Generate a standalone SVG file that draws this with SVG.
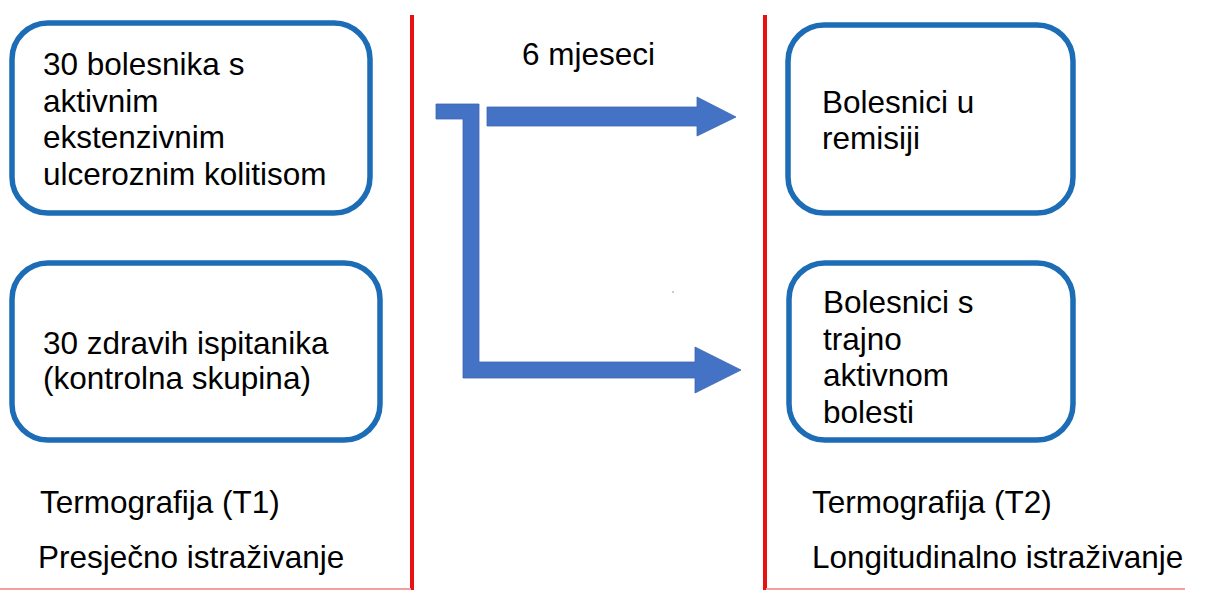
<svg xmlns="http://www.w3.org/2000/svg" width="1206" height="590" viewBox="0 0 1206 590">
<style>
.box{fill:#fff;stroke:#1c6db5;stroke-width:5.5}
.t{font-family:"Liberation Sans",Arial,sans-serif;font-size:31.5px;fill:#000}
.div{stroke:#e81010;stroke-width:4}
.base{stroke:#f0a0a0;stroke-width:2}
.arr{fill:#4472c4;stroke:#3d66b0;stroke-width:0.8}
</style>
<rect width="1206" height="590" fill="#fff"/>
<g id="dividers">
<line class="div" x1="412" y1="15" x2="412" y2="590"/>
<line class="div" x1="765" y1="15" x2="765" y2="590"/>
<line class="base" x1="0" y1="589" x2="411" y2="589"/>
<line class="base" x1="766" y1="589" x2="1185" y2="589"/>
</g>
<g id="node-patients">
<rect class="box" x="12" y="23" width="358" height="190" rx="36"/>
<text class="t" x="43" y="75">30 bolesnika s</text>
<text class="t" x="43" y="111.7">aktivnim</text>
<text class="t" x="43" y="148.3">ekstenzivnim</text>
<text class="t" x="43" y="185">ulceroznim kolitisom</text>
</g>
<g id="node-controls">
<rect class="box" x="12" y="263" width="368" height="177" rx="36"/>
<text class="t" x="43" y="354">30 zdravih ispitanika</text>
<text class="t" x="43" y="389">(kontrolna skupina)</text>
</g>
<g id="node-remission">
<rect class="box" x="788" y="25" width="285" height="188" rx="36"/>
<text class="t" x="822" y="113">Bolesnici u</text>
<text class="t" x="822" y="149">remisiji</text>
</g>
<g id="node-active">
<rect class="box" x="789" y="263" width="284" height="177" rx="36"/>
<text class="t" x="823" y="313">Bolesnici s</text>
<text class="t" x="823" y="349.7">trajno</text>
<text class="t" x="823" y="386.3">aktivnom</text>
<text class="t" x="823" y="423">bolesti</text>
</g>
<g id="connectors">
<polygon class="arr" points="487,107 697,107 697,97 736,117 697,136 697,126 487,126"/>
<polygon class="arr" points="436,104 479,104 479,362 695,362 695,347 741,370 695,393 695,378 463,378 463,119 436,119"/>
<circle cx="673" cy="292" r="0.8" fill="#888"/>
<text class="t" x="522" y="65">6 mjeseci</text>
</g>
<g id="labels">
<text class="t" x="40" y="513">Termografija (T1)</text>
<text class="t" x="38" y="568">Presječno istraživanje</text>
<text class="t" x="812" y="513">Termografija (T2)</text>
<text class="t" x="812" y="568">Longitudinalno istraživanje</text>
</g>
</svg>
